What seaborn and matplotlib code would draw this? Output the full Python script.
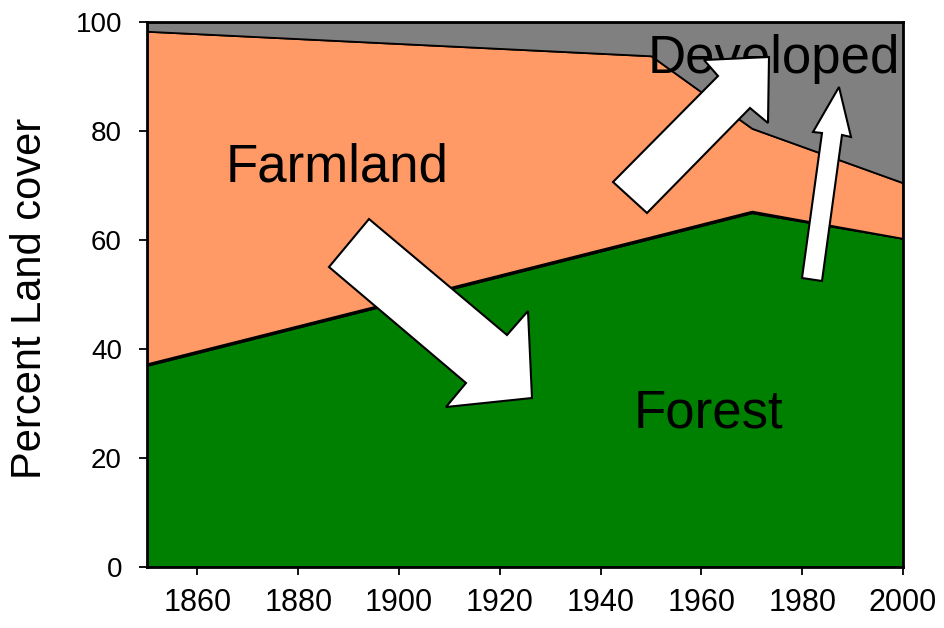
import numpy as np
import seaborn as sns
import matplotlib.pyplot as plt
from matplotlib.patches import Polygon

sns.set_theme(style='ticks')
plt.rcParams['font.family'] = ['Liberation Sans', 'DejaVu Sans']
plt.rcParams['text.color'] = 'black'
plt.rcParams['xtick.color'] = 'black'
plt.rcParams['ytick.color'] = 'black'

# Data (percent of land cover)
years = [1850, 1950, 1970, 2000]
forest = [37.0, 60.3, 65.0, 60.3]
other = [0.3, 0.3, 0.3, 0.0]
farmland = [61.0, 33.2, 15.2, 10.2]
developed = [1.7, 6.2, 19.5, 29.5]

colors = ['#008000', '#808080', '#FF9966', '#808080']

W, H = 944, 628
fig = plt.figure(figsize=(W / 100, H / 100), dpi=100)
ax = fig.add_axes([147 / W, 1 - 567 / H, (903 - 147) / W, (567 - 22) / H])

ax.stackplot(years, forest, other, farmland, developed,
             colors=colors, edgecolor='black', linewidth=1.3)

ax.set_xlim(1850, 2000)
ax.set_ylim(0, 100)
ax.set_xticks(np.arange(1860, 2001, 20))
ax.set_yticks(np.arange(0, 101, 20))
ax.tick_params(axis='x', labelsize=22, length=6, width=1.3, pad=9,
               colors='black', labelcolor='black')
ax.tick_params(axis='y', labelsize=20, length=6, width=1.3, pad=12,
               colors='black', labelcolor='black')
for s in ax.spines.values():
    s.set_color('black')
    s.set_linewidth(2)
ax.grid(False)

fig.text(30 / W, 1 - 298 / H, 'Percent Land cover', rotation=90,
         ha='center', va='center', fontsize=30, color='black')

# Region labels
ax.text(226 / W, 1 - 181 / H, 'Farmland', transform=fig.transFigure,
        fontsize=38, ha='left', va='baseline', color='black')
ax.text(634 / W, 1 - 428 / H, 'Forest', transform=fig.transFigure,
        fontsize=38, ha='left', va='baseline', color='black')

# Block arrows (pixel outlines)
arrows = [
    [(369, 219), (507, 335), (528, 311), (532, 398), (446, 407), (466, 383), (329, 267)],
    [(613, 182), (718, 76), (704, 60), (769, 57), (768, 123), (750, 108), (647, 213)],
    [(839, 87), (851, 137), (842, 135), (822, 281), (802, 278), (822, 133), (813, 132)],
]
for pts in arrows:
    verts = [(x / W, 1 - y / H) for x, y in pts]
    fig.patches.append(Polygon(verts, closed=True, facecolor='white',
                               edgecolor='black', linewidth=1.5,
                               transform=fig.transFigure, zorder=5))

fig.text(648 / W, 1 - 73 / H, 'Developed', fontsize=38,
         ha='left', va='baseline', zorder=4, color='black')

fig.savefig('out.png', dpi=100)
